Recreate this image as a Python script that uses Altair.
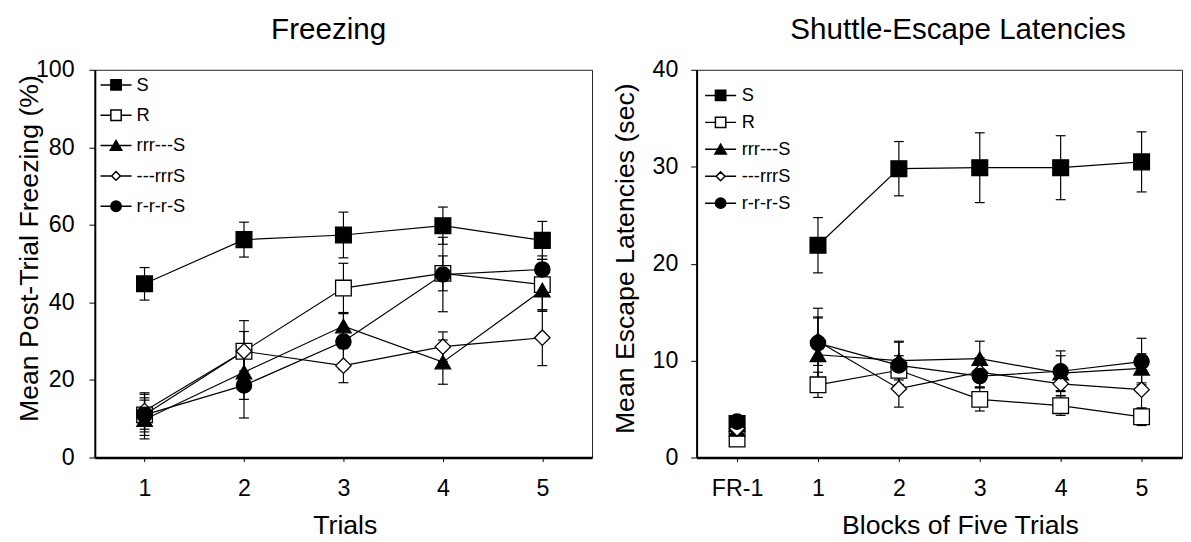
import altair as alt
import pandas as pd

FONT = "Liberation Sans"

# ---------------- data ----------------
groups = ["S", "R", "rrr---S", "---rrrS", "r-r-r-S"]
point_shapes = ["square", "square", "triangle-up", "diamond", "circle"]
fill_colors = ["black", "white", "black", "white", "black"]
stroke_colors = ["black", "black", "black", "black", "black"]
point_sizes = [256, 240, 250, 196, 240]
legend_shapes = [
    "M-3,0H-1M1,0H3M-1,-1H1V1H-1Z",
    "M-3,0H-1M1,0H3M-1,-1H1V1H-1Z",
    "M-3,0H-0.6M0.6,0H3M0,-1L1.1,0.9H-1.1Z",
    "M-3,0H-0.85M0.85,0H3M-0.85,0L0,-0.85L0.85,0L0,0.85Z",
    "M-3,0H-1M1,0H3M1,0A1,1,0,1,1,-1,0A1,1,0,1,1,1,0Z",
]

# Freezing panel
trials = [1, 2, 3, 4, 5]
frz_S = [44.8, 56.2, 57.4, 59.8, 56.0]
frz_S_se = [4.2, 4.5, 5.9, 4.8, 4.9]
frz_R = [11.0, 27.4, 43.7, 47.5, 44.6]
frz_R_se = [4.4, 7.9, 6.4, 4.5, 6.5]
frz_rrr = [9.8, 22.0, 33.9, 24.6, 43.2]
frz_rrr_se = [5.0, 7.0, 3.5, 5.7, 5.5]
frz_dia = [12.0, 27.4, 23.7, 28.6, 30.9]
frz_dia_se = [4.7, 5.1, 4.4, 3.8, 7.2]
frz_circ = [11.0, 18.6, 29.9, 47.2, 48.5]
frz_circ_se = [5.3, 8.4, 7.2, 9.6, 3.5]

# Shuttle-escape panel (0 = FR-1, plotted apart from the blocks)
blocks = [0, 1, 2, 3, 4, 5]
block_segments = [0, 1, 1, 1, 1, 1]
esc_S = [3.5, 21.9, 29.8, 29.9, 29.9, 30.5]
esc_S_se = [0.3, 2.85, 2.8, 3.6, 3.3, 3.1]
esc_R = [1.9, 7.5, 9.0, 6.0, 5.35, 4.2]
esc_R_se = [0.3, 1.3, 1.5, 1.2, 1.0, 0.9]
esc_rrr = [2.9, 10.6, 10.0, 10.2, 8.7, 9.2]
esc_rrr_se = [0.3, 3.8, 2.0, 1.8, 1.8, 1.5]
esc_dia = [3.0, 12.0, 7.1, 8.8, 7.6, 7.0]
esc_dia_se = [0.3, 2.5, 1.9, 1.5, 1.2, 1.9]
esc_circ = [3.7, 11.8, 9.5, 8.4, 8.9, 9.9]
esc_circ_se = [0.3, 3.6, 2.4, 1.2, 2.1, 2.4]


def make_df(xs, segs, means, ses):
    rows = []
    for gi, (g, m, s) in enumerate(zip(groups, means, ses)):
        for x, sg, v, e in zip(xs, segs, m, s):
            rows.append({"x": x, "y": v, "lo": v - e, "hi": v + e,
                         "group": g, "ord": gi, "line": f"{g}|{sg}"})
    return pd.DataFrame(rows)


frz_df = make_df(trials, [1] * len(trials),
                 [frz_S, frz_R, frz_rrr, frz_dia, frz_circ],
                 [frz_S_se, frz_R_se, frz_rrr_se, frz_dia_se, frz_circ_se])
esc_df = make_df(blocks, block_segments,
                 [esc_S, esc_R, esc_rrr, esc_dia, esc_circ],
                 [esc_S_se, esc_R_se, esc_rrr_se, esc_dia_se, esc_circ_se])


def panel(df, xdom, xvals, xlabel_expr, xtitle, xtitle_x,
          ydom, yvals, ytitle, ytitle_x, ytitle_y, ylabpad,
          width, height, title, title_dx, title_offset,
          leg_x, leg_y, leg_laboff, leg_rowpad):
    xaxis = alt.Axis(values=xvals, title=xtitle, tickSize=4, tickWidth=1,
                     domainWidth=2.5, labelPadding=16, labelFlush=False,
                     labelOverlap=False, labelExpr=xlabel_expr,
                     titleX=xtitle_x, titleY=77, titleAlign="center",
                     titleBaseline="alphabetic")
    yaxis = alt.Axis(values=yvals, title=ytitle, tickSize=6, tickWidth=1,
                     domainWidth=2, labelPadding=ylabpad, labelFlush=False,
                     titleX=ytitle_x, titleY=ytitle_y, titleAngle=270,
                     titleAlign="center", titleBaseline="alphabetic")
    xs = alt.Scale(domain=xdom, nice=False, zero=False)
    ys = alt.Scale(domain=ydom, nice=False, zero=False)

    def X(f="x"):
        return alt.X(f"{f}:Q", scale=xs, axis=xaxis, title=xtitle)

    def Y(f="y"):
        return alt.Y(f"{f}:Q", scale=ys, axis=yaxis, title=ytitle)

    base = alt.Chart(df)
    bars = base.mark_rule(color="black", strokeWidth=1.2).encode(
        x=X(), y=Y("lo"), y2="hi:Q")
    caps = base.transform_fold(["lo", "hi"], as_=["end", "val"]).mark_tick(
        orient="horizontal", size=10, thickness=1.2, color="black",
        opacity=1).encode(x=X(), y=Y("val"))
    lines = base.mark_line(color="black", strokeWidth=1.2).encode(
        x=X(), y=Y(), detail="line:N", order="x:Q")
    pts = base.mark_point(filled=True, opacity=1, stroke="black",
                          strokeWidth=1.3).encode(
        x=X(), y=Y(),
        shape=alt.Shape("group:N", scale=alt.Scale(domain=groups, range=point_shapes), legend=None),
        fill=alt.Fill("group:N", scale=alt.Scale(domain=groups, range=fill_colors), legend=None),
        size=alt.Size("group:N", scale=alt.Scale(domain=groups, range=point_sizes), legend=None),
        order=alt.Order("ord:Q"))
    leg = alt.Legend(title=None, orient="none", legendX=leg_x, legendY=leg_y,
                     symbolSize=110, symbolStrokeWidth=1.5, symbolOffset=0,
                     labelFont=FONT, labelFontSize=18.5, labelColor="black",
                     labelOffset=leg_laboff, rowPadding=leg_rowpad, padding=0)
    legend_layer = base.transform_filter("false").mark_point(
        filled=True, opacity=1, strokeWidth=1.5).encode(
        x=X(), y=Y(),
        shape=alt.Shape("group:N", scale=alt.Scale(domain=groups, range=legend_shapes), legend=leg),
        fill=alt.Fill("group:N", scale=alt.Scale(domain=groups, range=fill_colors), legend=leg),
        stroke=alt.Stroke("group:N", scale=alt.Scale(domain=groups, range=stroke_colors), legend=leg))
    return alt.layer(bars, caps, lines, pts, legend_layer).resolve_scale(
        shape="independent", fill="independent", stroke="independent").properties(
        width=width, height=height,
        title=alt.TitleParams(title, anchor="middle", frame="group", dx=title_dx,
                              offset=title_offset, baseline="alphabetic",
                              fontSize=30, font=FONT, fontWeight="normal",
                              color="black"))


left = panel(frz_df, [0.5, 5.5], trials, "datum.label", "Trials", 253.4,
             [0, 100], [0, 20, 40, 60, 80, 100], "Mean Post-Trial Freezing (%)",
             -58, 180.7, 15, 504, 393, "Freezing", -15, -10.4,
             12.25, 6.05, 11.55, 11.75)
right = panel(esc_df, [-0.5, 5.5], blocks,
              "datum.value === 0 ? 'FR-1' : datum.label",
              "Blocks of Five Trials", 266.8,
              [0, 40], [0, 10, 20, 30, 40], "Mean Escape Latencies (sec)",
              -63.5, 191, 13, 492, 393, "Shuttle-Escape Latencies", 19, -10.4,
              15.05, 16.75, 12.15, 8.3)

chart = alt.hconcat(left, right, spacing=106, bounds="flush").resolve_scale(
    x="independent", y="independent", shape="independent",
    fill="independent", size="independent", stroke="independent").properties(
    padding={"left": 7, "top": 2, "right": 0, "bottom": 0},
    background="white").configure_view(
    stroke="#222", strokeWidth=1).configure_axis(
    grid=False, domainColor="black", tickColor="black", labelColor="black",
    titleColor="black", labelFont=FONT, titleFont=FONT, labelFontSize=23.5,
    titleFontSize=27, titleFontWeight="normal")

chart.save("out.html", embed_options={"renderer": "svg", "actions": False})
